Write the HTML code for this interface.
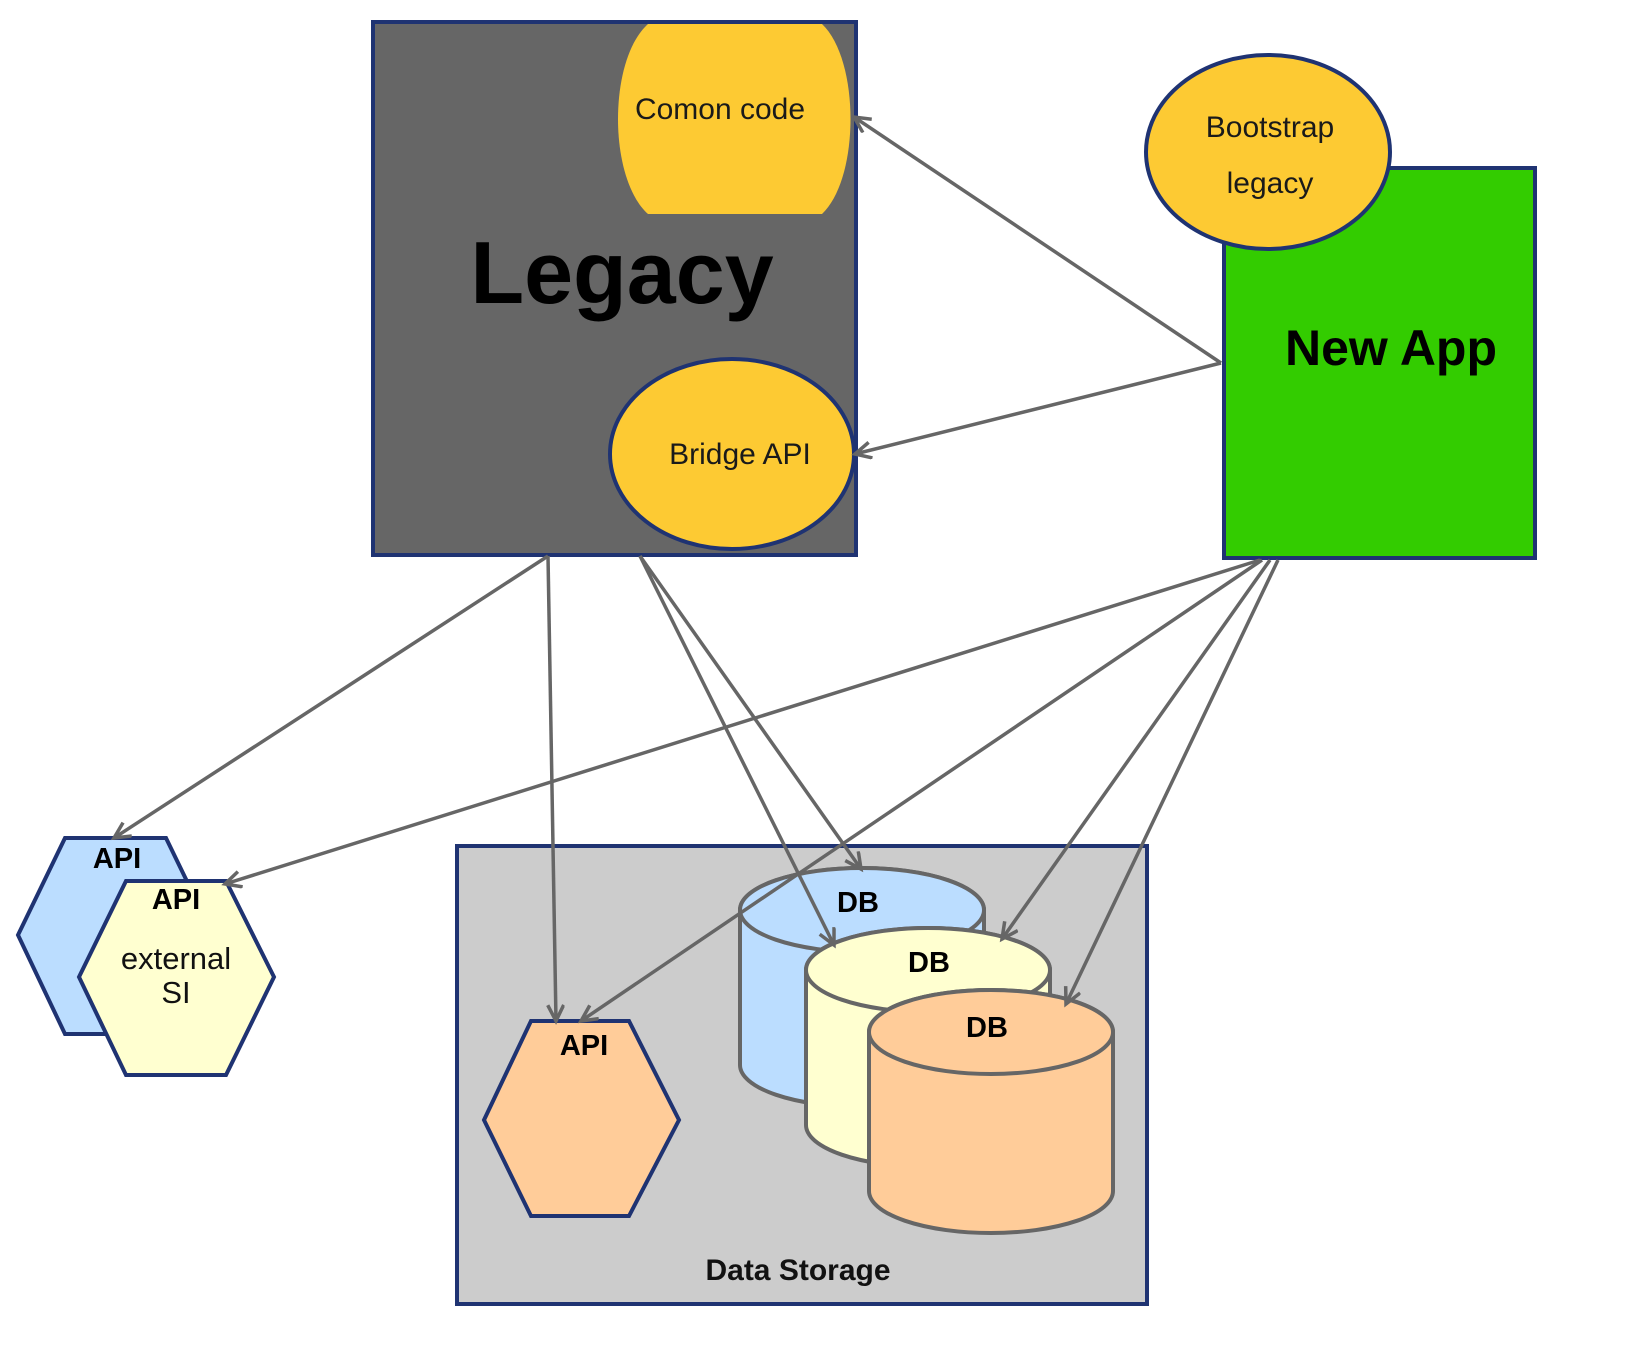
<!DOCTYPE html>
<html><head><meta charset="utf-8"><style>
html,body{margin:0;padding:0;background:#fff}
svg{display:block}
text{font-family:"Liberation Sans",Arial,sans-serif}
</style></head><body>
<svg width="1626" height="1350" viewBox="0 0 1626 1350" xmlns="http://www.w3.org/2000/svg">
<defs>
<marker id="a" markerWidth="22" markerHeight="22" refX="17" refY="9" orient="auto" markerUnits="userSpaceOnUse">
<path d="M1,1 L17,9 L1,17" fill="none" stroke="#666" stroke-width="3.5"/>
</marker>
</defs>
<!-- Legacy -->
<rect x="373" y="22" width="483" height="533" fill="#666666" stroke="#1f3372" stroke-width="4"/>
<path d="M648,24 L822,24 C860,60 860,178 822,214 L648,214 C608,178 608,60 648,24 Z" fill="#fdca33"/>
<text x="720" y="119" font-size="30" text-anchor="middle" fill="#1a1a1a">Comon code</text>
<text x="622" y="303" font-size="88" font-weight="bold" text-anchor="middle" fill="#000">Legacy</text>
<ellipse cx="732" cy="454" rx="122" ry="95" fill="#fdca33" stroke="#1f3372" stroke-width="4"/>
<text x="740" y="464" font-size="30" text-anchor="middle" fill="#1a1a1a">Bridge API</text>
<!-- New App -->
<rect x="1224" y="168" width="311" height="390" fill="#33cc00" stroke="#1f3372" stroke-width="4"/>
<text x="1391" y="365" font-size="50" font-weight="bold" text-anchor="middle" fill="#000">New App</text>
<ellipse cx="1268" cy="152" rx="122" ry="97" fill="#fdca33" stroke="#1f3372" stroke-width="4"/>
<text x="1270" y="137" font-size="30" text-anchor="middle" fill="#1a1a1a">Bootstrap</text>
<text x="1270" y="193" font-size="30" text-anchor="middle" fill="#1a1a1a">legacy</text>
<!-- Data storage -->
<rect x="457" y="846" width="690" height="458" fill="#cccccc" stroke="#1f3372" stroke-width="4"/>
<text x="798" y="1280" font-size="30" font-weight="bold" text-anchor="middle" fill="#111">Data Storage</text>
<!-- external API hexes -->
<polygon points="65,838 166,838 213,935 166,1034 65,1034 18,935" fill="#bbddff" stroke="#1f3372" stroke-width="4"/>
<text x="117" y="868" font-size="29" font-weight="bold" text-anchor="middle" fill="#000">API</text>
<polygon points="126,881 226,881 274,977 226,1075 126,1075 79,977" fill="#ffffd0" stroke="#1f3372" stroke-width="4"/>
<text x="176" y="909" font-size="29" font-weight="bold" text-anchor="middle" fill="#000">API</text>
<text x="176" y="969" font-size="31" text-anchor="middle" fill="#111">external</text>
<text x="176" y="1003" font-size="31" text-anchor="middle" fill="#111">SI</text>
<!-- orange API -->
<polygon points="531,1021 629,1021 679,1120 629,1216 531,1216 484,1120" fill="#ffcc99" stroke="#1f3372" stroke-width="4"/>
<text x="584" y="1055" font-size="29" font-weight="bold" text-anchor="middle" fill="#000">API</text>
<!-- DB cylinders -->
<g stroke="#666" stroke-width="4">
<path d="M740,910 L740,1065 A122,42 0 0 0 984,1065 L984,910 A122,42 0 0 0 740,910 Z" fill="#bbddff"/>
<ellipse cx="862" cy="910" rx="122" ry="42" fill="#bbddff"/>
<path d="M806,970 L806,1125 A122,42 0 0 0 1050,1125 L1050,970 A122,42 0 0 0 806,970 Z" fill="#ffffd0"/>
<ellipse cx="928" cy="970" rx="122" ry="42" fill="#ffffd0"/>
<path d="M869,1032 L869,1191 A122,42 0 0 0 1113,1191 L1113,1032 A122,42 0 0 0 869,1032 Z" fill="#ffcc99"/>
<ellipse cx="991" cy="1032" rx="122" ry="42" fill="#ffcc99"/>
</g>
<text x="858" y="912" font-size="29" font-weight="bold" text-anchor="middle" fill="#000">DB</text>
<text x="929" y="972" font-size="29" font-weight="bold" text-anchor="middle" fill="#000">DB</text>
<text x="987" y="1037" font-size="29" font-weight="bold" text-anchor="middle" fill="#000">DB</text>
<!-- arrows -->
<g stroke="#666" stroke-width="3.5" fill="none" marker-end="url(#a)">
<line x1="1221" y1="363" x2="854" y2="117"/>
<line x1="1221" y1="363" x2="855" y2="454"/>
<line x1="548" y1="556" x2="114" y2="838"/>
<line x1="548" y1="556" x2="556" y2="1021"/>
<line x1="640" y1="556" x2="861" y2="869"/>
<line x1="640" y1="556" x2="834" y2="945"/>
<line x1="1260" y1="560" x2="225" y2="884"/>
<line x1="1262" y1="560" x2="581" y2="1021"/>
<line x1="1270" y1="560" x2="1002" y2="939"/>
<line x1="1278" y1="560" x2="1066" y2="1004"/>
</g>
</svg>
</body></html>
